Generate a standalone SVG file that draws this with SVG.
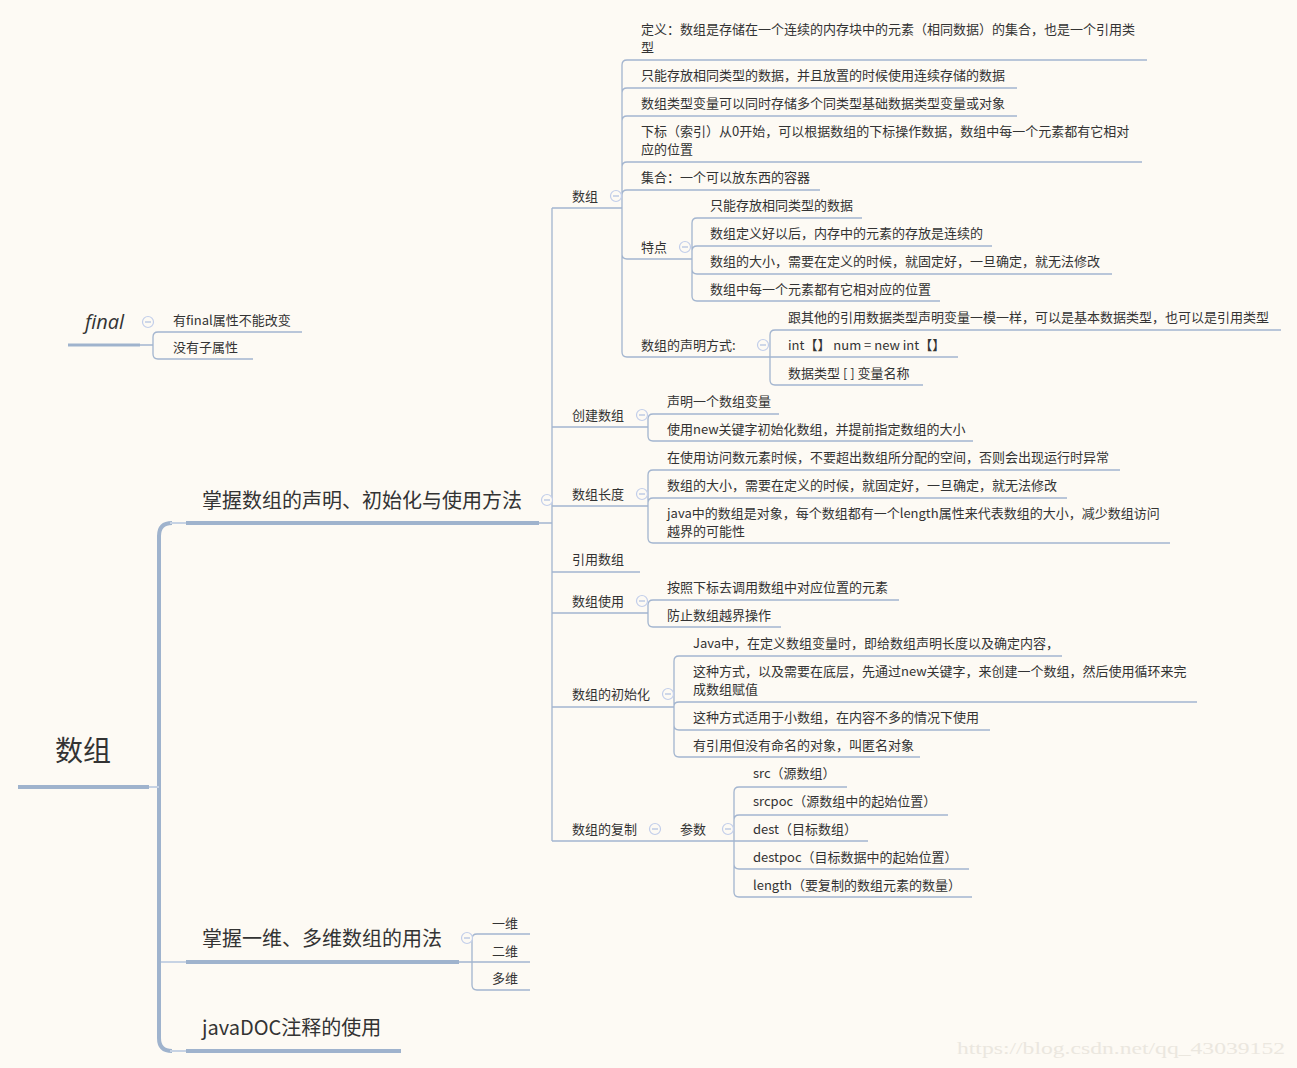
<svg xmlns="http://www.w3.org/2000/svg" width="1297" height="1068" viewBox="0 0 1297 1068">
<style>
text{font-family:"Microsoft YaHei","Noto Sans CJK SC","Noto Sans",sans-serif;fill:#333;}
.t{font-size:13px;}
.b1{font-size:20px;}
.root{font-size:28px;}
.fin{font-size:20px;font-style:italic;font-family:"Open Sans","Noto Sans",sans-serif;}
.ln{fill:none;stroke:#A3B5CF;stroke-width:1.3;}
.thick{fill:none;stroke:#9FB3CD;stroke-width:4;}
.light{fill:none;stroke:#C7D3E4;stroke-width:2;}
.cc circle{fill:#FDFAF4;stroke:#C2CEEA;stroke-width:1.2;}
.cc path{stroke:#AFC0E0;stroke-width:1.2;}
.wm{font-family:"Liberation Serif",serif;font-size:17px;fill:#EBE7DF;}
</style>
<defs>
<g id="col" class="cc"><circle cx="0" cy="0" r="5.5"/><path d="M-3,0H3"/></g>
</defs>
<rect width="1297" height="1068" fill="#FDFAF4"/>

<g id="connectors">
  <path class="thick" d="M172,523 Q159,523 159,536 L159,1038 Q159,1051 172,1051"/>
  <path class="light" d="M170,523 H186 M170,1051 H186 M161,962 H186 M149,787 H159"/>
  <path class="thick" d="M18,787 H149"/>
  <path class="thick" d="M186,523 H539"/>
  <path class="thick" d="M186,962 H459"/>
  <path class="thick" d="M186,1051 H401"/>
  <path class="thick" style="stroke-width:3" d="M68,345 H140"/>

  <path class="ln" d="M140,345 H153 M153,345 V337 Q153,332 158,332 H302 M153,345 V354 Q153,359 158,359 H253"/>
  <path class="ln" d="M459,962 H530 M472,962 V939 Q472,934 477,934 H530 M472,962 V985 Q472,990 477,990 H530"/>

  <path class="ln" d="M539,523 H552 M552,208 V841"/>
  <path class="ln" d="M552,208 H622 M552,427 H648 M552,506 H648 M552,572 H640 M552,613 H648 M552,707 H674 M552,841 H734"/>

  <path class="ln" d="M622,208 V65 Q622,60 627,60 H1147
    M622,208 V93 Q622,88 627,88 H1017
    M622,208 V121 Q622,116 627,116 H1017
    M622,208 V167 Q622,162 627,162 H1142
    M622,208 V195 Q622,190 627,190 H820
    M622,208 V254 Q622,259 627,259 H692
    M622,208 V352 Q622,357 627,357 H770"/>
  <path class="ln" d="M692,259 V223 Q692,218 697,218 H862
    M692,259 V251 Q692,246 697,246 H992
    M692,259 V269 Q692,274 697,274 H1112
    M692,259 V296 Q692,301 697,301 H940"/>
  <path class="ln" d="M770,357 V335 Q770,330 775,330 H1281
    M770,357 H958
    M770,357 V380 Q770,385 775,385 H923"/>
  <path class="ln" d="M648,427 V419 Q648,414 653,414 H779
    M648,427 V436 Q648,441 653,441 H973"/>
  <path class="ln" d="M648,506 V475 Q648,470 653,470 H1120
    M648,506 V503 Q648,498 653,498 H1067
    M648,506 V538 Q648,543 653,543 H1170"/>
  <path class="ln" d="M648,613 V605 Q648,600 653,600 H899
    M648,613 V622 Q648,627 653,627 H781"/>
  <path class="ln" d="M674,707 V661 Q674,656 679,656 H1062
    M674,707 V706 Q674,702 679,702 H1197
    M674,707 V725 Q674,730 679,730 H990
    M674,707 V752 Q674,757 679,757 H920"/>
  <path class="ln" d="M734,841 V792 Q734,787 739,787 H847
    M734,841 V820 Q734,815 739,815 H948
    M734,841 H868
    M734,841 V864 Q734,869 739,869 H969
    M734,841 V892 Q734,897 739,897 H972"/>
</g>

<g id="root"><text class="root" x="55" y="761">数组</text></g>

<g id="final">
  <text class="fin" x="85" y="329">final</text>
  <use href="#col" x="148" y="322"/>
</g>
<g id="final-1"><text class="t" x="173" y="325">有final属性不能改变</text></g>
<g id="final-2"><text class="t" x="173" y="352">没有子属性</text></g>

<g id="b1">
  <text class="b1" x="202" y="508">掌握数组的声明、初始化与使用方法</text>
  <use href="#col" x="547" y="500"/>
</g>
<g id="b2">
  <text class="b1" x="202" y="946">掌握一维、多维数组的用法</text>
  <use href="#col" x="467" y="938"/>
</g>
<g id="b2-1"><text class="t" x="492" y="928">一维</text></g>
<g id="b2-2"><text class="t" x="492" y="956">二维</text></g>
<g id="b2-3"><text class="t" x="492" y="983">多维</text></g>
<g id="b3"><text class="b1" x="202" y="1035">javaDOC注释的使用</text></g>

<g id="n-shuzu">
  <text class="t" x="572" y="201">数组</text>
  <use href="#col" x="616" y="196"/>
</g>
<g id="n-def"><text class="t" x="641" y="34">定义：数组是存储在一个连续的内存块中的元素（相同数据）的集合，也是一个引用类</text><text class="t" x="641" y="52">型</text></g>
<g id="n-a1"><text class="t" x="641" y="80">只能存放相同类型的数据，并且放置的时候使用连续存储的数据</text></g>
<g id="n-a2"><text class="t" x="641" y="108">数组类型变量可以同时存储多个同类型基础数据类型变量或对象</text></g>
<g id="n-a3"><text class="t" x="641" y="136">下标（索引）从0开始，可以根据数组的下标操作数据，数组中每一个元素都有它相对</text><text class="t" x="641" y="154">应的位置</text></g>
<g id="n-a4"><text class="t" x="641" y="182">集合：一个可以放东西的容器</text></g>
<g id="n-tedian">
  <text class="t" x="641" y="252">特点</text>
  <use href="#col" x="685" y="247"/>
</g>
<g id="n-t1"><text class="t" x="710" y="210">只能存放相同类型的数据</text></g>
<g id="n-t2"><text class="t" x="710" y="238">数组定义好以后，内存中的元素的存放是连续的</text></g>
<g id="n-t3"><text class="t" x="710" y="266">数组的大小，需要在定义的时候，就固定好，一旦确定，就无法修改</text></g>
<g id="n-t4"><text class="t" x="710" y="294">数组中每一个元素都有它相对应的位置</text></g>
<g id="n-sm">
  <text class="t" x="641" y="350">数组的声明方式:</text>
  <use href="#col" x="763" y="345"/>
</g>
<g id="n-s1"><text class="t" x="788" y="322">跟其他的引用数据类型声明变量一模一样，可以是基本数据类型，也可以是引用类型</text></g>
<g id="n-s2"><text class="t" x="788" y="350">int【】 num = new int【】</text></g>
<g id="n-s3"><text class="t" x="788" y="378">数据类型 [ ] 变量名称</text></g>

<g id="n-cj">
  <text class="t" x="572" y="420">创建数组</text>
  <use href="#col" x="642" y="415"/>
</g>
<g id="n-c1"><text class="t" x="667" y="406">声明一个数组变量</text></g>
<g id="n-c2"><text class="t" x="667" y="434">使用new关键字初始化数组，并提前指定数组的大小</text></g>

<g id="n-cd">
  <text class="t" x="572" y="499">数组长度</text>
  <use href="#col" x="642" y="494"/>
</g>
<g id="n-d1"><text class="t" x="667" y="462">在使用访问数元素时候，不要超出数组所分配的空间，否则会出现运行时异常</text></g>
<g id="n-d2"><text class="t" x="667" y="490">数组的大小，需要在定义的时候，就固定好，一旦确定，就无法修改</text></g>
<g id="n-d3"><text class="t" x="667" y="518">java中的数组是对象，每个数组都有一个length属性来代表数组的大小，减少数组访问</text><text class="t" x="667" y="536">越界的可能性</text></g>

<g id="n-yy"><text class="t" x="572" y="564">引用数组</text></g>

<g id="n-sy">
  <text class="t" x="572" y="606">数组使用</text>
  <use href="#col" x="642" y="601"/>
</g>
<g id="n-u1"><text class="t" x="667" y="592">按照下标去调用数组中对应位置的元素</text></g>
<g id="n-u2"><text class="t" x="667" y="620">防止数组越界操作</text></g>

<g id="n-csh">
  <text class="t" x="572" y="699">数组的初始化</text>
  <use href="#col" x="668" y="694"/>
</g>
<g id="n-i1"><text class="t" x="693" y="648">Java中，在定义数组变量时，即给数组声明长度以及确定内容，</text></g>
<g id="n-i2"><text class="t" x="693" y="676">这种方式，以及需要在底层，先通过new关键字，来创建一个数组，然后使用循环来完</text><text class="t" x="693" y="694">成数组赋值</text></g>
<g id="n-i3"><text class="t" x="693" y="722">这种方式适用于小数组，在内容不多的情况下使用</text></g>
<g id="n-i4"><text class="t" x="693" y="750">有引用但没有命名的对象，叫匿名对象</text></g>

<g id="n-fz">
  <text class="t" x="572" y="834">数组的复制</text>
  <use href="#col" x="655" y="829"/>
</g>
<g id="n-cs">
  <text class="t" x="680" y="834">参数</text>
  <use href="#col" x="728" y="829"/>
</g>
<g id="n-p1"><text class="t" x="753" y="778">src（源数组）</text></g>
<g id="n-p2"><text class="t" x="753" y="806">srcpoc（源数组中的起始位置）</text></g>
<g id="n-p3"><text class="t" x="753" y="834">dest（目标数组）</text></g>
<g id="n-p4"><text class="t" x="753" y="862">destpoc（目标数据中的起始位置）</text></g>
<g id="n-p5"><text class="t" x="753" y="890">length（要复制的数组元素的数量）</text></g>

<text class="wm" x="957" y="1054" textLength="328" lengthAdjust="spacingAndGlyphs">https://blog.csdn.net/qq_43039152</text>
</svg>
